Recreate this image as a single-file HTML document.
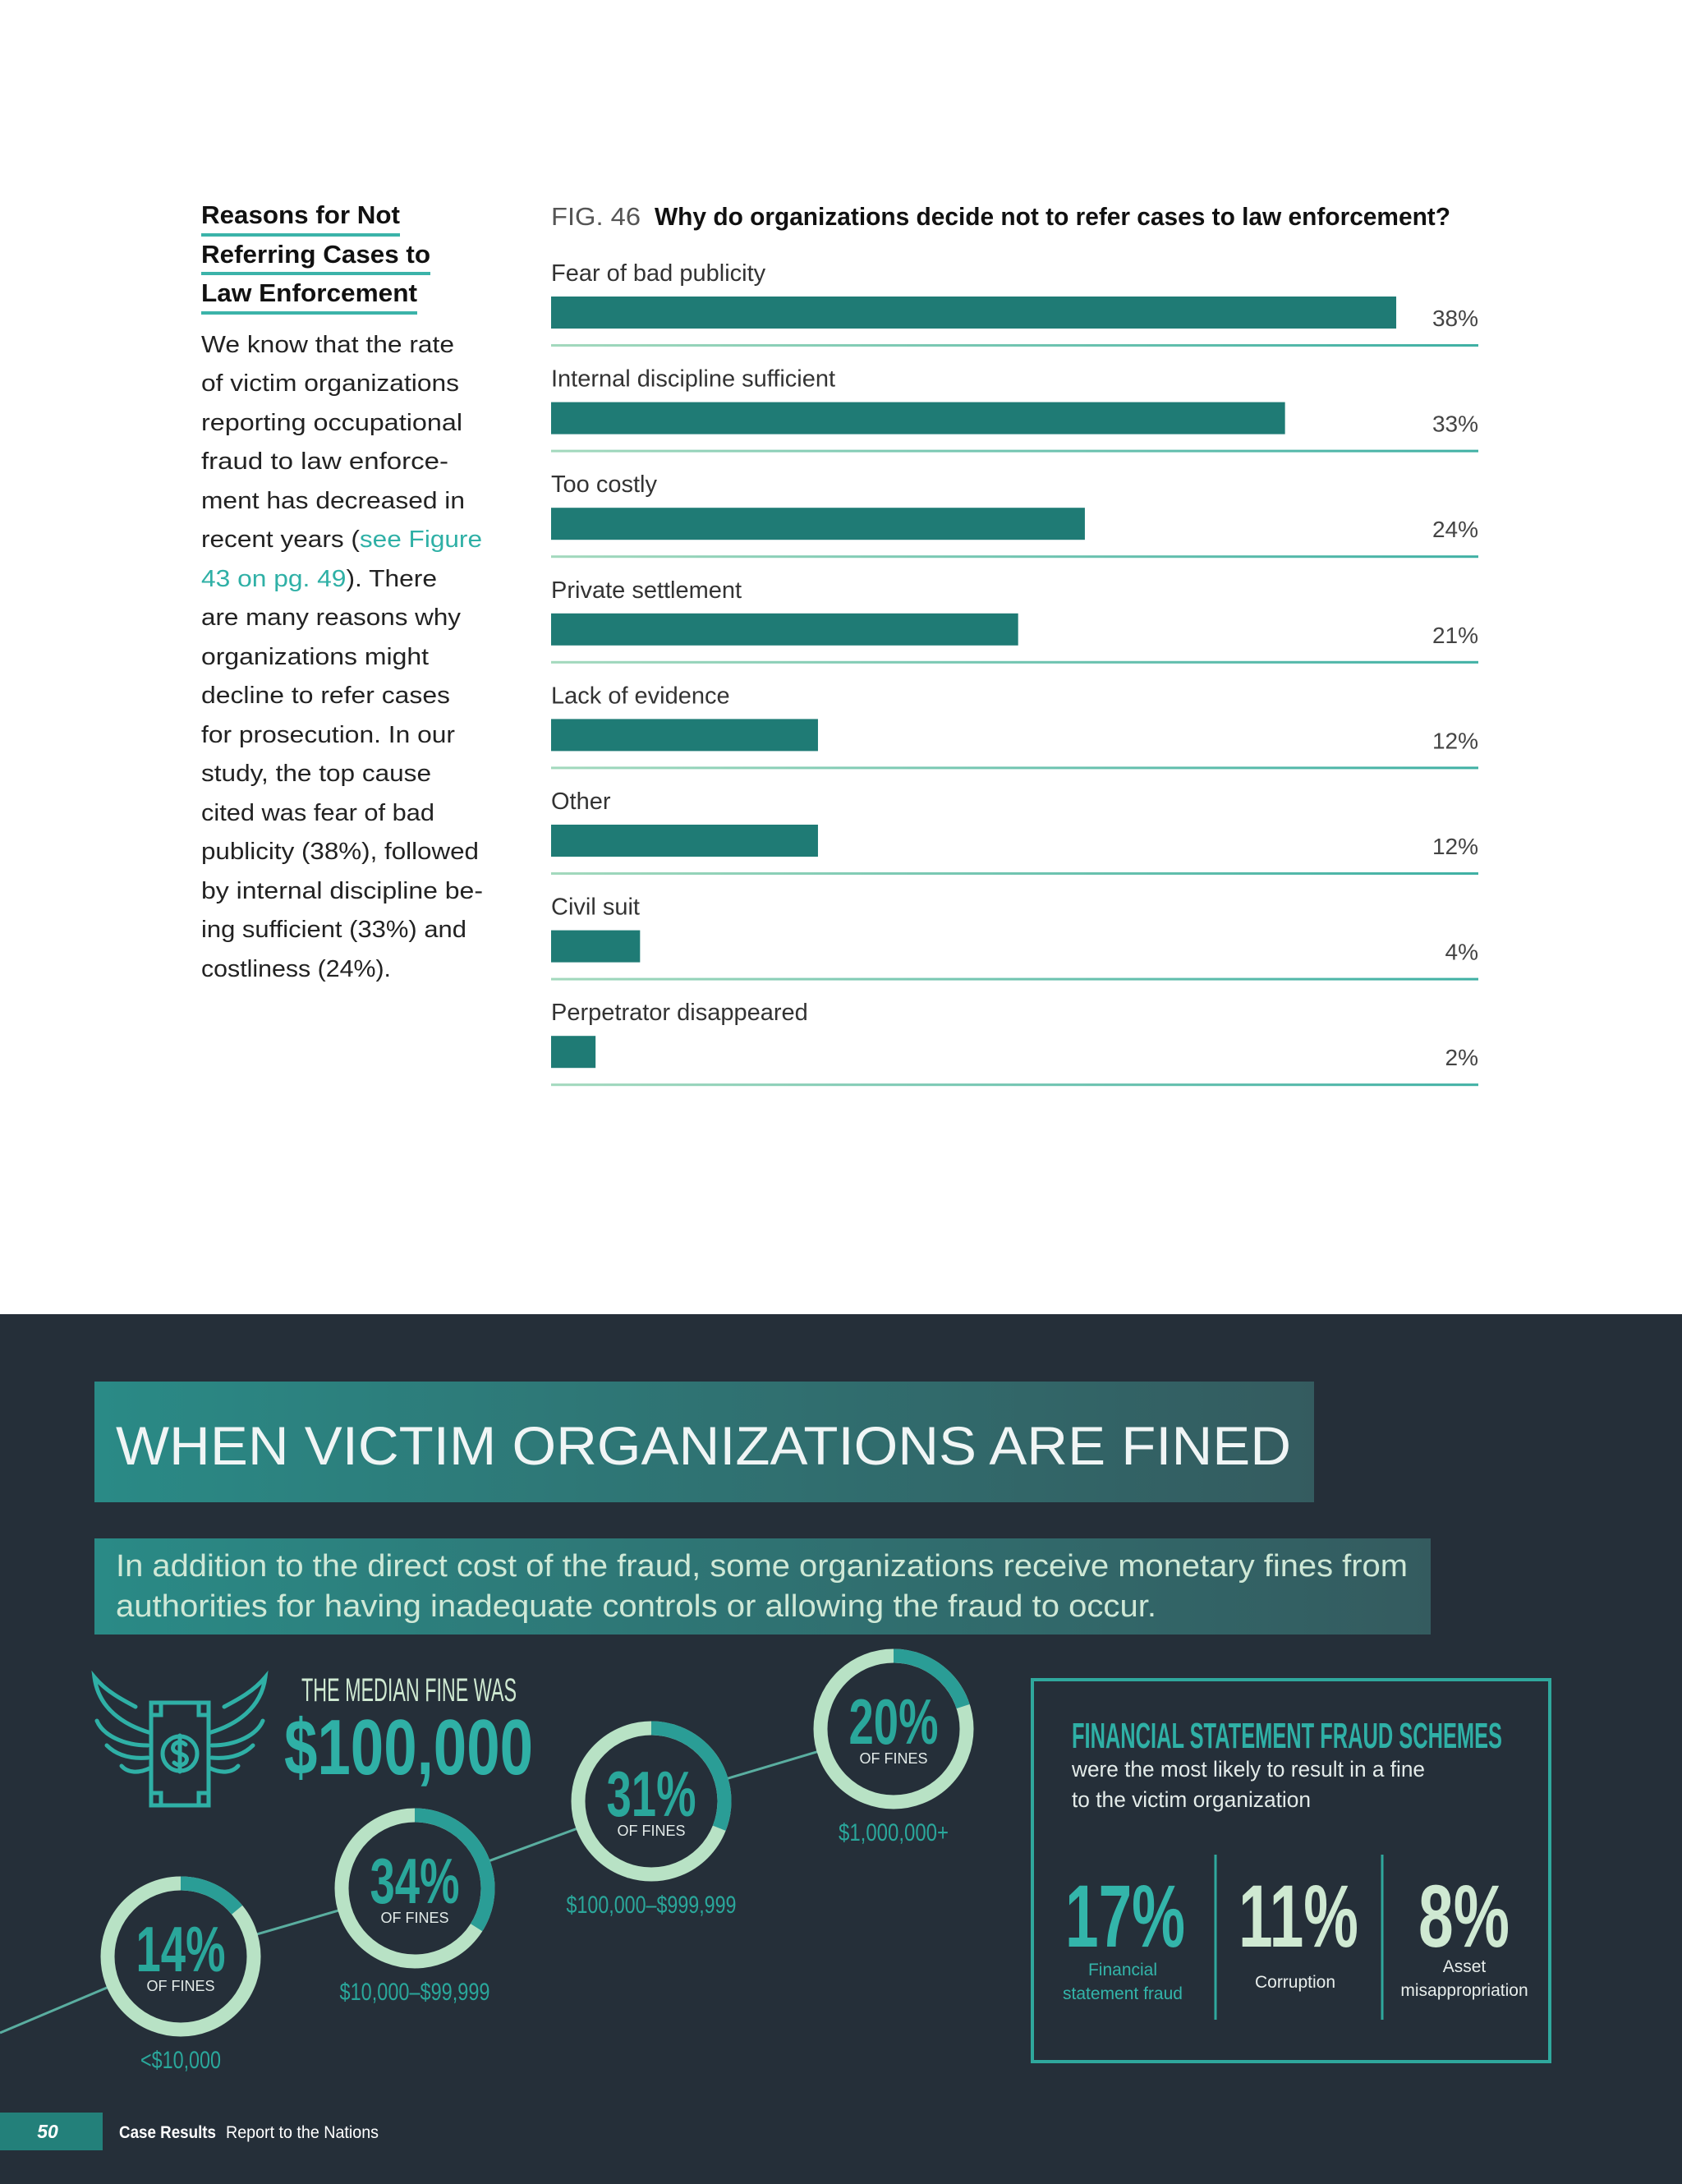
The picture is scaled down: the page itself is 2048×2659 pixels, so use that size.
<!DOCTYPE html>
<html><head><meta charset="utf-8"><style>
html,body{margin:0;padding:0;background:#fff}
svg{display:block}
text{font-family:"Liberation Sans",sans-serif}
</style></head><body>
<svg id="page" xmlns="http://www.w3.org/2000/svg" width="2048" height="2659" viewBox="0 0 2048 2659">
<defs>
<linearGradient id="gBan" x1="0" x2="1" y1="0" y2="0"><stop offset="0" stop-color="#2a8a86"/><stop offset="1" stop-color="#345b5f"/></linearGradient>
<linearGradient id="gRule" x1="0" x2="1"><stop offset="0" stop-color="#a3d9bd"/><stop offset="1" stop-color="#3fb0a4"/></linearGradient>
</defs>
<rect x="0" y="0" width="2048" height="1600" fill="#ffffff"/>

<!-- sidebar -->
<g font-size="31" font-weight="bold" fill="#111">
<text x="245" y="272" textLength="242" lengthAdjust="spacingAndGlyphs">Reasons for Not</text>
<rect x="245" y="284" width="242" height="4" fill="#3bb3a9"/>
<text x="245" y="320" textLength="279" lengthAdjust="spacingAndGlyphs">Referring Cases to</text>
<rect x="245" y="331" width="279" height="4" fill="#3bb3a9"/>
<text x="245" y="367" textLength="263" lengthAdjust="spacingAndGlyphs">Law Enforcement</text>
<rect x="245" y="379" width="263" height="4" fill="#3bb3a9"/>
</g>
<g font-size="29" fill="#222">
<text x="245" y="429" textLength="308" lengthAdjust="spacingAndGlyphs">We know that the rate</text>
<text x="245" y="476" textLength="314" lengthAdjust="spacingAndGlyphs">of victim organizations</text>
<text x="245" y="524" textLength="318" lengthAdjust="spacingAndGlyphs">reporting occupational</text>
<text x="245" y="571" textLength="301" lengthAdjust="spacingAndGlyphs">fraud to law enforce-</text>
<text x="245" y="619" textLength="321" lengthAdjust="spacingAndGlyphs">ment has decreased in</text>
<text x="245" y="666" textLength="342" lengthAdjust="spacingAndGlyphs">recent years (<tspan fill="#2fb0a6">see Figure</tspan></text>
<text x="245" y="714" textLength="287" lengthAdjust="spacingAndGlyphs"><tspan fill="#2fb0a6">43 on pg. 49</tspan>). There</text>
<text x="245" y="761" textLength="316" lengthAdjust="spacingAndGlyphs">are many reasons why</text>
<text x="245" y="809" textLength="277" lengthAdjust="spacingAndGlyphs">organizations might</text>
<text x="245" y="856" textLength="303" lengthAdjust="spacingAndGlyphs">decline to refer cases</text>
<text x="245" y="904" textLength="309" lengthAdjust="spacingAndGlyphs">for prosecution. In our</text>
<text x="245" y="951" textLength="280" lengthAdjust="spacingAndGlyphs">study, the top cause</text>
<text x="245" y="999" textLength="284" lengthAdjust="spacingAndGlyphs">cited was fear of bad</text>
<text x="245" y="1046" textLength="338" lengthAdjust="spacingAndGlyphs">publicity (38%), followed</text>
<text x="245" y="1094" textLength="343" lengthAdjust="spacingAndGlyphs">by internal discipline be-</text>
<text x="245" y="1141" textLength="323" lengthAdjust="spacingAndGlyphs">ing sufficient (33%) and</text>
<text x="245" y="1189" textLength="231" lengthAdjust="spacingAndGlyphs">costliness (24%).</text>
</g>

<!-- chart -->
<g>
<text x="671" y="274" font-size="31" fill="#555" textLength="109" lengthAdjust="spacingAndGlyphs">FIG. 46</text>
<text x="797" y="274" font-size="31" font-weight="bold" fill="#111" textLength="969" lengthAdjust="spacingAndGlyphs">Why do organizations decide not to refer cases to law enforcement?</text>
<g id="bars"></g>
</g>

<!-- dark section -->
<rect x="0" y="1600" width="2048" height="1059" fill="#252f39"/>
<rect x="115" y="1682" width="1485" height="147" fill="url(#gBan)"/>
<text x="141" y="1783" font-size="66" fill="#f0f5f5" textLength="1431" lengthAdjust="spacingAndGlyphs">WHEN VICTIM ORGANIZATIONS ARE FINED</text>
<rect x="115" y="1873" width="1627" height="117" fill="url(#gBan)"/>
<g font-size="38" fill="#cfe8d6">
<text x="141" y="1919" textLength="1573" lengthAdjust="spacingAndGlyphs">In addition to the direct cost of the fraud, some organizations receive monetary fines from</text>
<text x="141" y="1968" textLength="1267" lengthAdjust="spacingAndGlyphs">authorities for having inadequate controls or allowing the fraud to occur.</text>
</g>

<!-- money icon -->
<g fill="none" stroke="#2fb0a6" stroke-width="5" stroke-linecap="round">
<rect x="184" y="2073" width="70" height="125"/>
<path d="M184 2088 h12 v-15 M254 2088 h-12 v-15 M184 2183 h12 v15 M254 2183 h-12 v15"/>
<circle cx="219" cy="2135" r="21"/>
<path d="M226 2124 q-7-6-14 0 q-5 8 7 11 q12 3 7 11 q-7 6-14 0 M219 2113 v44"/>
<path d="M184 2110 C150 2100 120 2080 115 2042 C130 2060 150 2070 165 2078 M180 2125 C150 2125 125 2112 118 2095 M180 2140 C155 2142 140 2135 130 2125 M184 2152 C168 2160 155 2158 148 2150"/>
<path d="M254 2110 C288 2100 318 2080 323 2042 C308 2060 288 2070 273 2078 M258 2125 C288 2125 313 2112 320 2095 M258 2140 C283 2142 298 2135 308 2125 M254 2152 C270 2160 283 2158 290 2150"/>
</g>
<text x="367" y="2071" font-size="40" fill="#cfe9d2" textLength="262" lengthAdjust="spacingAndGlyphs">THE MEDIAN FINE WAS</text>
<text x="346" y="2160" font-size="96" font-weight="bold" fill="#2fb0a6" textLength="303" lengthAdjust="spacingAndGlyphs">$100,000</text>

<g id="donuts"></g>

<!-- right box -->
<g>
<rect x="1257" y="2045" width="630" height="465" fill="none" stroke="#2fa89d" stroke-width="4"/>
<text x="1305" y="2128" font-size="44" font-weight="bold" fill="#2fb0a6" textLength="524" lengthAdjust="spacingAndGlyphs">FINANCIAL STATEMENT FRAUD SCHEMES</text>
<text x="1305" y="2163" font-size="27" fill="#e3ebe9" textLength="430" lengthAdjust="spacingAndGlyphs">were the most likely to result in a fine</text>
<text x="1305" y="2200" font-size="27" fill="#e3ebe9" textLength="291" lengthAdjust="spacingAndGlyphs">to the victim organization</text>
<line x1="1480" y1="2258" x2="1480" y2="2459" stroke="#2fa89d" stroke-width="3"/>
<line x1="1683" y1="2258" x2="1683" y2="2459" stroke="#2fa89d" stroke-width="3"/>
<text x="1297" y="2370" font-size="108" font-weight="bold" fill="#33b5aa" textLength="146" lengthAdjust="spacingAndGlyphs">17%</text>
<text x="1508" y="2370" font-size="108" font-weight="bold" fill="#cfe9d2" textLength="146" lengthAdjust="spacingAndGlyphs">11%</text>
<text x="1727" y="2370" font-size="108" font-weight="bold" fill="#cfe9d2" textLength="111" lengthAdjust="spacingAndGlyphs">8%</text>
<g font-size="21" text-anchor="middle">
<text x="1367" y="2405" fill="#33b5aa">Financial</text>
<text x="1367" y="2434" fill="#33b5aa">statement fraud</text>
<text x="1577" y="2420" fill="#e8eeec">Corruption</text>
<text x="1783" y="2401" fill="#e8eeec">Asset</text>
<text x="1783" y="2430" fill="#e8eeec">misappropriation</text>
</g>
</g>

<!-- footer -->
<g>
<rect x="0" y="2572" width="125" height="46" fill="#23807a"/>
<text x="58" y="2603" font-size="23" font-weight="bold" font-style="italic" fill="#fff" text-anchor="middle">50</text>
<text x="145" y="2603" font-size="21" font-weight="bold" fill="#fff" textLength="118" lengthAdjust="spacingAndGlyphs">Case Results</text>
<text x="275" y="2603" font-size="21" fill="#fff" textLength="186" lengthAdjust="spacingAndGlyphs">Report to the Nations</text>
</g>
</svg>
<script>
const categories = ["Fear of bad publicity","Internal discipline sufficient","Too costly","Private settlement","Lack of evidence","Other","Civil suit","Perpetrator disappeared"];
const values = [38,33,24,21,12,12,4,2];
const valueLabels = ["38%","33%","24%","21%","12%","12%","4%","2%"];

const finePercents = [14,34,31,20];
const fineLabels = ["14%","34%","31%","20%"];
const fineRanges = ["<$10,000","$10,000–$99,999","$100,000–$999,999","$1,000,000+"];

const NS = "http://www.w3.org/2000/svg";
function mk(tag, attrs, parent){const e=document.createElementNS(NS,tag);for(const k in attrs)e.setAttribute(k,attrs[k]);parent.appendChild(e);return e;}

// bar chart axes
const x0 = 671, xRight = 1800, pxPerPct = 27.08;
function xScale(v){return x0 + v*pxPerPct;}
function rowY(i){return 332 + i*128.6;}
const bars = document.getElementById('bars');
categories.forEach((c,i)=>{
  const y = rowY(i);
  const lab = mk('text',{x:x0,y:y+10,'font-size':29,fill:'#333'},bars);
  lab.textContent = c;
  
  
  const r = mk('rect',{x:x0,y:y+29,width:xScale(values[i])-x0,height:39,fill:'#1f7b75'},bars);
  
  
  const t = mk('text',{x:xRight,y:y+65,'font-size':28,fill:'#444','text-anchor':'end'},bars);
  t.textContent = valueLabels[i];
  
  
  const ln = mk('rect',{x:x0,y:y+87,width:xRight-x0,height:3,fill:'url(#gRule)'},bars);
  
  
});

// donuts
const centers = [[220,2382],[505,2299],[793,2193],[1088,2105]];
const R = 89, SW = 17;
const dg = document.getElementById('donuts');
const pts = [[0,2475]].concat(centers);
for(let i=0;i<pts.length-1;i++){
  const l = mk('line',{x1:pts[i][0],y1:pts[i][1],x2:pts[i+1][0],y2:pts[i+1][1],stroke:'#5aaea0','stroke-width':3},dg);
  
  
}
const textW = [109,109,109,109];
finePercents.forEach((p,i)=>{
  const [cx,cy] = centers[i];
  const g = mk('g',{},dg);
  
  
  mk('circle',{cx,cy,r:R,fill:'#252f39',stroke:'#b8e2c5','stroke-width':SW},g);
  const a = p/100*2*Math.PI;
  const x1 = cx, y1 = cy-R, x2 = cx+R*Math.sin(a), y2 = cy-R*Math.cos(a);
  const arc = mk('path',{d:`M${x1} ${y1} A${R} ${R} 0 ${p>50?1:0} 1 ${x2} ${y2}`,fill:'none',stroke:'#2a9d96','stroke-width':SW},g);
  
  
  const n = mk('text',{x:cx,y:cy+18,'font-size':78,'font-weight':'bold',fill:'#2aa79b','text-anchor':'middle',textLength:textW[i],lengthAdjust:'spacingAndGlyphs'},g);
  n.textContent = fineLabels[i];
  
  
  const o = mk('text',{x:cx,y:cy+42,'font-size':18,fill:'#e3ebe9','text-anchor':'middle'},g);
  o.textContent = 'OF FINES';
  
  
  const rg = mk('text',{x:cx,y:cy+136,'font-size':30,fill:'#2aa79b','text-anchor':'middle',textLength:Math.round(fineRanges[i].length*12.2),lengthAdjust:'spacingAndGlyphs'},g);
  rg.textContent = fineRanges[i];
  
  
});
</script>
</body></html>
